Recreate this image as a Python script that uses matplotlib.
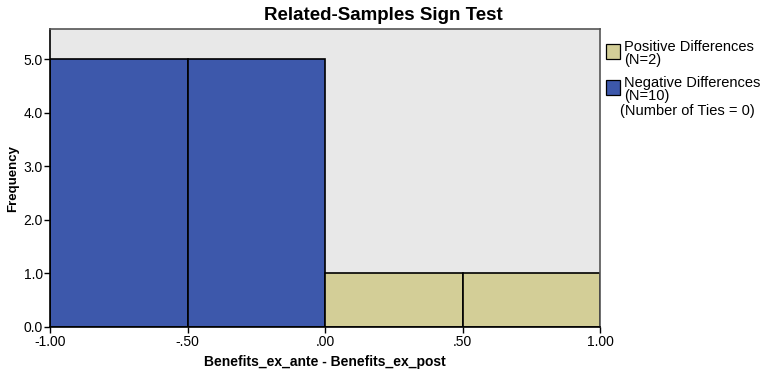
import matplotlib
matplotlib.use("Agg")
import matplotlib.pyplot as plt
from matplotlib.patches import Rectangle

plt.rcParams['font.family'] = ['Liberation Sans', 'DejaVu Sans']

bin_edges = [-1.0, -0.5, 0.0, 0.5, 1.0]
counts = [5, 5, 1, 1]
groups = ['neg', 'neg', 'pos', 'pos']
colors = {'pos': '#d3ce97', 'neg': '#3d58ab'}
legend_labels = ['Positive Differences\n(N=2)', 'Negative Differences\n(N=10)']
ties_label = '(Number of Ties = 0)'
xticks = [-1.0, -0.5, 0.0, 0.5, 1.0]
xtick_labels = ['-1.00', '-.50', '.00', '.50', '1.00']
yticks = [0, 1, 2, 3, 4, 5]
ytick_labels = ['0.0', '1.0', '2.0', '3.0', '4.0', '5.0']

W, H = 764, 377
fig = plt.figure(figsize=(W/100, H/100), dpi=100)
ax = fig.add_axes([50/W, 50/H, 550/W, 298/H])
ax.set_facecolor('#e8e8e8')

lefts = bin_edges[:-1]
widths = [bin_edges[i+1] - bin_edges[i] for i in range(len(counts))]
ax.bar(lefts, counts, width=widths, align='edge',
       color=[colors[g] for g in groups], edgecolor='black', linewidth=1.2)

ax.set_xlim(-1.0, 1.0)
ax.set_ylim(0, 5.56)
ax.set_xticks(xticks)
ax.set_xticklabels(xtick_labels, fontsize=10)
ax.set_yticks(yticks)
ax.set_yticklabels(ytick_labels, fontsize=10)
ax.tick_params(axis='x', direction='out', length=4, width=1, pad=2)
ax.tick_params(axis='y', direction='out', length=4, width=1, pad=1)
for s in ax.spines.values():
    s.set_linewidth(1.2)
ax.spines['top'].set_color('#555555')
ax.spines['right'].set_color('#555555')

ax.set_xlabel('Benefits_ex_ante - Benefits_ex_post', fontsize=10, fontweight='bold', labelpad=4)
ax.set_ylabel('Frequency', fontsize=9.5, fontweight='bold', labelpad=3)
fig.text(383/W, 1 - 15/H, 'Related-Samples Sign Test', ha='center', va='center',
         fontsize=13.5, fontweight='bold')

# legend (manual)
boxes_top = [44, 80]
text_tops = [40, 76.5]
for lab, col, bt, tt in zip(legend_labels, [colors['pos'], colors['neg']], boxes_top, text_tops):
    fig.add_artist(Rectangle((606/W, 1 - (bt + 15)/H), 14/W, 15/H, transform=fig.transFigure,
                             facecolor=col, edgecolor='black', linewidth=0.9))
    fig.text(624/W, 1 - tt/H, lab, ha='left', va='top', fontsize=10.5, linespacing=0.88)
fig.text(620/W, 1 - 103.5/H, ties_label, ha='left', va='top', fontsize=10.5)

fig.savefig('out.png', dpi=100)
